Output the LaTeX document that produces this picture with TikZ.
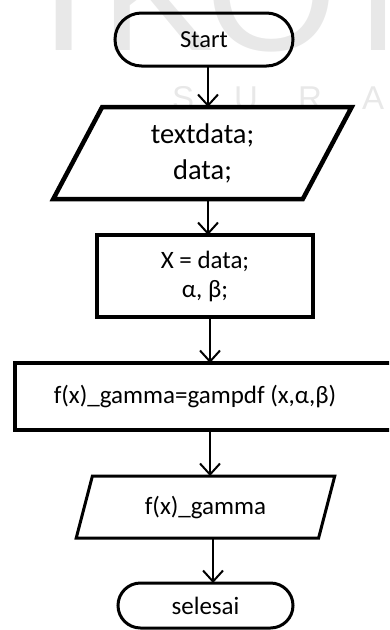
\documentclass[tikz,border=0pt]{standalone}
\usepackage{fontspec}
\setmainfont{Carlito}
\newfontfamily\wmfont{Liberation Sans}
\usetikzlibrary{shapes.misc,shapes.geometric,arrows.meta}
\tikzset{
  term/.style={rounded rectangle, draw, line width=3pt, inner sep=0pt, outer sep=0pt},
  procbox/.style={rectangle, draw, line width=3.5pt, inner sep=0pt, outer sep=0pt, align=center},
  iobox/.style={trapezium, trapezium stretches=true, draw, inner sep=0pt, outer sep=0pt, align=center},
  arr/.style={line width=2pt, -{Straight Barb[length=11pt,width=20pt]}},
  txt/.style={font=\fontsize{25}{29}\selectfont},
  wm/.style={text=black!9, inner sep=0pt}
}
\begin{document}
\begin{tikzpicture}[x=1pt,y=-1pt]
\useasboundingbox (0,0) rectangle (389,630);
\begin{scope}
\clip (0,0) rectangle (389,630);
% watermark
\node[wm, font=\wmfont\fontsize{170}{170}\selectfont, anchor=base west] (wmbig) at (40,50)
  {\makebox[60pt][l]{I}\makebox[105pt][l]{K}\makebox[152pt][l]{O}M};
\node[wm, font=\wmfont\fontsize{33}{33}\selectfont, anchor=base west] (wmsmall) at (172,109)
  {\makebox[62pt][l]{S}\makebox[64pt][l]{U}\makebox[64pt][l]{R}A};
% shapes
\node[term, minimum width=178pt, minimum height=53pt, font=\fontsize{24.5}{29}\selectfont] (start) at (204,39.5) {Start};
\node[iobox, trapezium left angle=67, trapezium right angle=113, minimum width=299pt, minimum height=92pt, line width=4.5pt, font=\fontsize{28.5}{36}\selectfont] (in1) at (202.5,153) {textdata;\\data;};
\node[procbox, minimum width=216pt, minimum height=82pt, txt] (proc1) at (205,276) {X = data;\\α, β;};
\node[procbox, minimum width=385pt, minimum height=67pt, txt] (proc2) at (207.5,396.5) {f(x)\_gamma=gampdf (x,α,β)\hspace*{25pt}};
\node[iobox, trapezium left angle=69, trapezium right angle=111, minimum width=259pt, minimum height=62pt, line width=3pt, txt] (out1) at (205.5,507) {f(x)\_gamma};
\node[term, minimum width=175pt, minimum height=45pt, font=\fontsize{25}{29}\selectfont] (stop) at (205.5,605.5) {selesai};
% connectors
\draw[arr] ([xshift=4pt]start.south) -- ([xshift=4pt]start.south |- in1.north);
\draw[arr] ([xshift=5.5pt]in1.south) -- ([xshift=5.5pt]in1.south |- proc1.north);
\draw[arr] ([xshift=5pt]proc1.south) -- ([xshift=5pt]proc1.south |- proc2.north);
\draw[arr] ([xshift=2.5pt]proc2.south) -- ([xshift=2.5pt]proc2.south |- out1.north);
\draw[arr] ([xshift=7.5pt]out1.south) -- ([xshift=7.5pt]out1.south |- stop.north);
\end{scope}
\end{tikzpicture}
\end{document}
